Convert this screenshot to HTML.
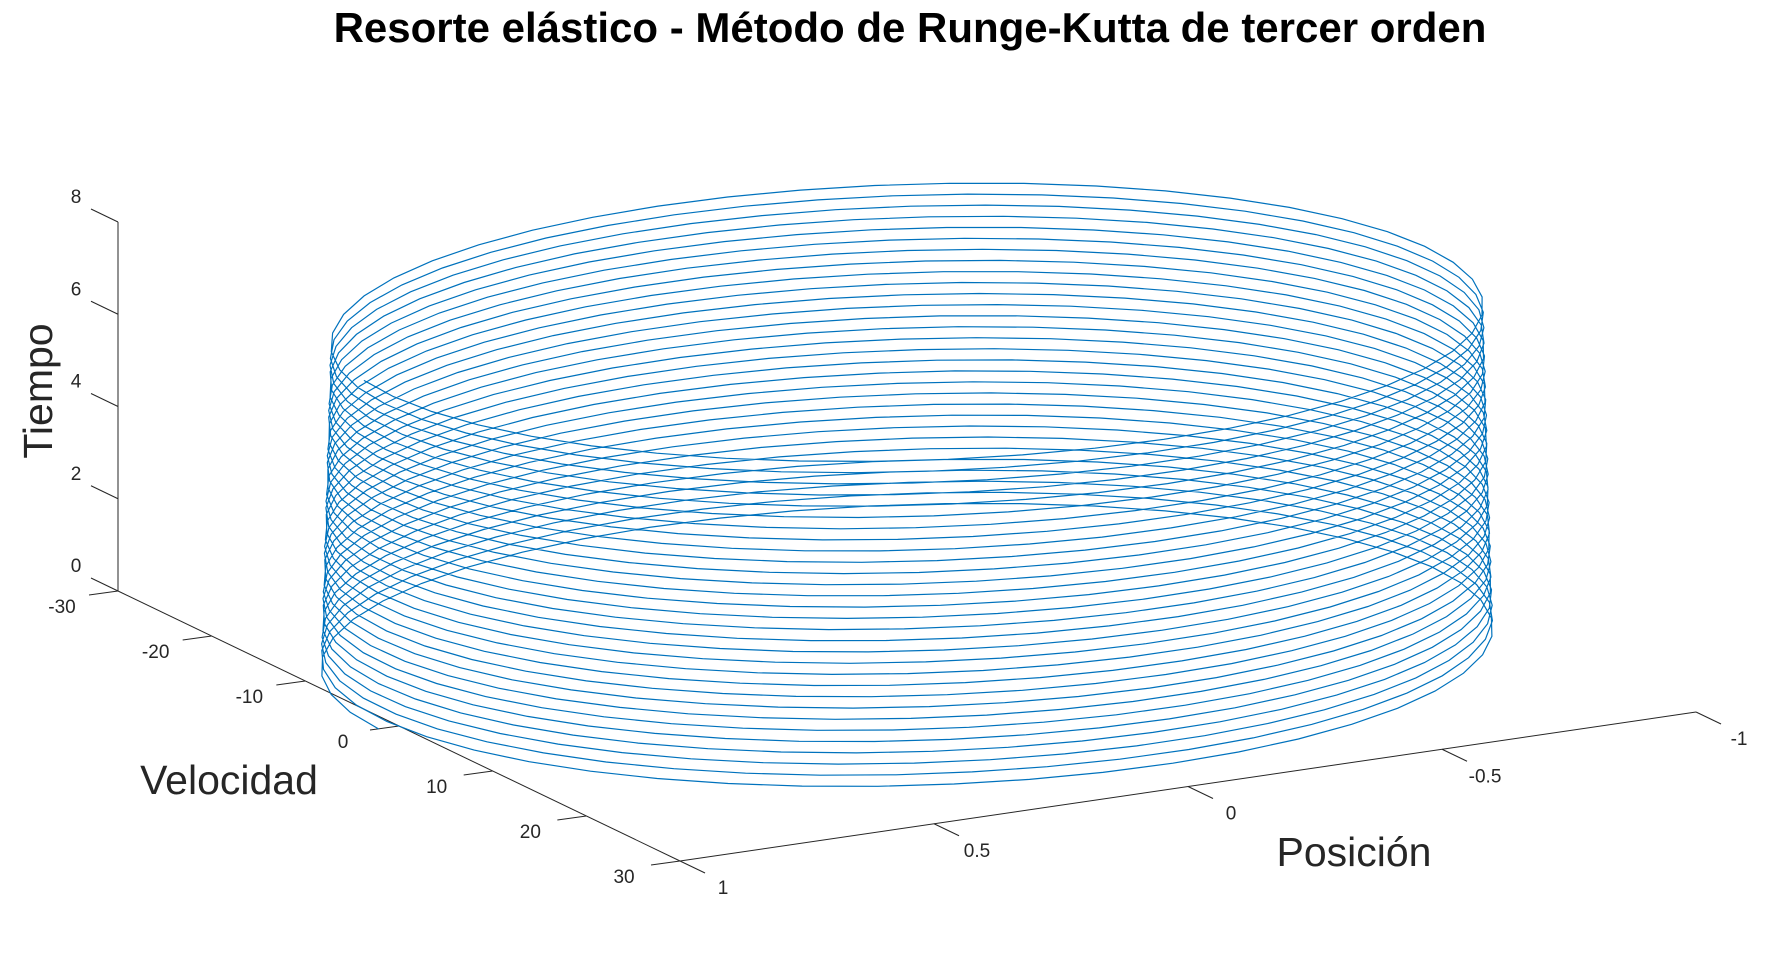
<!DOCTYPE html>
<html>
<head>
<meta charset="utf-8">
<style>
html,body{margin:0;padding:0;background:#fff;}
svg{display:block;font-family:"Liberation Sans",sans-serif;}
</style>
</head>
<body>
<svg id="chart" width="1769" height="968" viewBox="0 0 1769 968" xmlns="http://www.w3.org/2000/svg">
<rect width="1769" height="968" fill="#fff"/>
<text x="910" y="42" text-anchor="middle" font-size="42" font-weight="bold" fill="#000">Resorte elástico - Método de Runge-Kutta de tercer orden</text>
<g id="axes"></g>
<g id="series"></g>
<text x="0" y="0" transform="translate(52,391) rotate(-90)" text-anchor="middle" font-size="41" fill="#262626">Tiempo</text>
<text x="229" y="794" text-anchor="middle" font-size="41" fill="#262626">Velocidad</text>
<text x="1354" y="866" text-anchor="middle" font-size="41" fill="#262626">Posición</text>
</svg>
<script>
// data / model parameters
const positionTicks = [1, 0.5, 0, -0.5, -1];
const positionTickLabels = ["1", "0.5", "0", "-0.5", "-1"];
const velocityTicks = [-30, -20, -10, 0, 10, 20, 30];
const velocityTickLabels = ["-30", "-20", "-10", "0", "10", "20", "30"];
const timeTicks = [0, 2, 4, 6, 8];
const timeTickLabels = ["0", "2", "4", "6", "8"];
const springK = [678.6];
const springMass = [1];
const initialState = [1.04, 0];   // position, velocity
const timeSpan = [0, 7.24];
const stepSize = [0.005];

// projection (axis functions)
const O = [118, 591];           // screen point of x=1, v=-30, t=0
const ex = [-508, 74.5];        // per unit position
const ev = [9.367, 4.5];        // per unit velocity
const et = [0, -46.125];        // per unit time
function proj(x, v, t) {
  return [O[0] + (x - 1) * ex[0] + (v + 30) * ev[0] + t * et[0],
          O[1] + (x - 1) * ex[1] + (v + 30) * ev[1] + t * et[1]];
}
const NS = "http://www.w3.org/2000/svg";
const axes = document.getElementById('axes');
function line(p, q, name, color, w) {
  const l = document.createElementNS(NS, 'line');
  l.setAttribute('x1', p[0]); l.setAttribute('y1', p[1]);
  l.setAttribute('x2', q[0]); l.setAttribute('y2', q[1]);
  l.setAttribute('stroke', color); l.setAttribute('stroke-width', w);
  
  
  axes.appendChild(l);
}
function label(x, y, s, name) {
  const t = document.createElementNS(NS, 'text');
  t.setAttribute('x', x); t.setAttribute('y', y);
  t.setAttribute('text-anchor', 'middle');
  t.setAttribute('font-size', '19');
  t.setAttribute('fill', '#262626');
  t.textContent = s;
  
  
  axes.appendChild(t);
}
// axis lines
line(proj(1, -30, 0), proj(1, -30, 8), 'z-axis-line', '#262626', 1);
line(proj(1, -30, 0), proj(1, 30, 0), 'y-axis-line', '#262626', 1);
line(proj(1, 30, 0), proj(-1, 30, 0), 'x-axis-line', '#262626', 1);
// time ticks
timeTicks.forEach((t, i) => {
  const p = proj(1, -30, t);
  line(p, [p[0] - 27, p[1] - 13], 'z-tick', '#262626', 1);
  label(p[0] - 42, p[1] - 19, timeTickLabels[i], 'z-tick-label');
});
// velocity ticks
velocityTicks.forEach((v, i) => {
  const p = proj(1, v, 0);
  line(p, [p[0] - 29, p[1] + 4], 'y-tick', '#262626', 1);
  label(p[0] - 56, p[1] + 22, velocityTickLabels[i], 'y-tick-label');
});
// position ticks
positionTicks.forEach((x, i) => {
  const p = proj(x, 30, 0);
  line(p, [p[0] + 25, p[1] + 12], 'x-tick', '#262626', 1);
  label(p[0] + 43, p[1] + 33, positionTickLabels[i], 'x-tick-label');
});
// RK3 integration of m x'' = -k x
function f(x, v) { return [v, -springK[0] / springMass[0] * x]; }
let x = initialState[0], v = initialState[1], t = timeSpan[0];
const h = stepSize[0];
const pts = [];
pts.push(proj(x, v, t));
while (t < timeSpan[1] - 1e-9) {
  const k1 = f(x, v);
  const k2 = f(x + h / 2 * k1[0], v + h / 2 * k1[1]);
  const k3 = f(x - h * k1[0] + 2 * h * k2[0], v - h * k1[1] + 2 * h * k2[1]);
  x = x + h / 6 * (k1[0] + 4 * k2[0] + k3[0]);
  v = v + h / 6 * (k1[1] + 4 * k2[1] + k3[1]);
  t = t + h;
  pts.push(proj(x, v, t));
}
const pl = document.createElementNS(NS, 'polyline');
pl.setAttribute('points', pts.map(p => p[0].toFixed(1) + ',' + p[1].toFixed(1)).join(' '));
pl.setAttribute('fill', 'none');
pl.setAttribute('stroke', '#0072BD');
pl.setAttribute('stroke-width', '1.2');


document.getElementById('series').appendChild(pl);
</script>
</body>
</html>
